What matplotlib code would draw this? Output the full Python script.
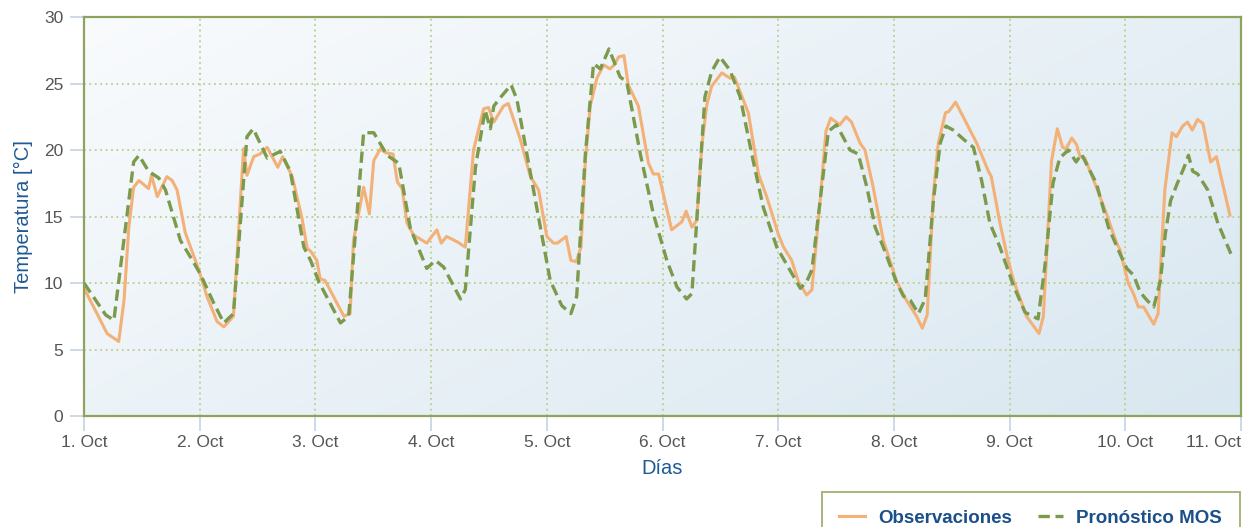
import numpy as np
import matplotlib
matplotlib.use("Agg")
import matplotlib.pyplot as plt
from matplotlib.colors import LinearSegmentedColormap

plt.rcParams['font.family'] = ['Liberation Sans', 'DejaVu Sans']

# ---------------- data: hours since 1 Oct 00:00, temperature in degC ----------------
obs_hours = [0.0, 2.7, 4.8, 7.2, 8.3, 9.3, 10.3, 11.4, 13.4, 14.0, 15.2, 17.2, 18.3, 19.3,
             21.0, 23.8, 25.5, 27.6, 29.0, 31.0, 33.1, 33.8, 35.2, 36.5, 38.0, 40.2, 41.2,
             43.2, 45.2, 46.3, 47.0, 48.3, 49.0, 50.0, 53.9, 55.2, 55.9, 58.0, 59.2, 60.1,
             61.5, 62.5, 64.1, 65.0, 66.0, 67.0, 68.4, 71.1, 73.2, 74.1, 75.2, 77.4, 79.1,
             80.8, 82.9, 83.9, 85.0, 87.0, 88.0, 90.5, 92.6, 94.3, 96.0, 97.4, 98.2, 100.0,
             101.0, 102.1, 103.1, 104.0, 105.0, 106.4, 107.8, 109.1, 110.0, 110.9, 112.0,
             112.9, 115.0, 117.1, 118.1, 119.2, 121.9, 124.0, 124.9, 126.1, 127.1, 128.2,
             129.2, 130.2, 132.3, 134.0, 134.9, 137.8, 139.9, 141.6, 142.3, 144.0, 145.1,
             146.8, 148.2, 149.9, 151.0, 152.7, 153.9, 154.9, 156.8, 158.1, 159.2, 161.0,
             162.0, 163.7, 165.8, 168.6, 170.6, 172.7, 173.9, 174.9, 176.2, 177.2, 178.7,
             179.4, 180.8, 185.2, 187.6, 188.2, 190.0, 191.7, 192.8, 195.5, 196.9, 198.1,
             199.0, 200.7, 201.9, 203.0, 203.7, 204.9, 205.9, 206.6, 207.6, 210.0, 212.1,
             214.2, 214.9, 216.6, 217.7, 218.7, 219.8, 221.9, 222.8, 224.2, 225.7, 226.6,
             227.9, 228.9, 229.9, 231.0, 232.1, 233.7, 234.9, 237.7]
obs_temp = [9.6, 7.7, 6.2, 5.6, 8.7, 14.2, 17.2, 17.7, 17.1, 18.1, 16.5, 18.0, 17.7, 17.0,
            13.8, 11.0, 9.0, 7.1, 6.7, 7.5, 20.1, 18.1, 19.5, 19.7, 20.2, 18.7, 19.5,
            18.0, 14.9, 12.6, 12.4, 11.7, 10.3, 10.2, 7.5, 7.7, 13.2, 17.2, 15.2, 19.2,
            20.1, 19.8, 19.7, 17.6, 17.1, 14.5, 13.6, 13.0, 14.0, 13.0, 13.5, 13.1, 12.7,
            20.0, 23.1, 23.2, 22.1, 23.3, 23.5, 20.8, 18.0, 17.0, 13.5, 13.0, 13.0, 13.5,
            11.7, 11.6, 12.7, 19.2, 23.3, 25.4, 26.4, 26.1, 26.4, 27.0, 27.1,
            24.9, 23.3, 19.0, 18.2, 18.2, 14.0, 14.6, 15.4, 14.2, 14.7, 20.5,
            23.4, 24.8, 25.8, 25.4, 25.5, 22.8, 18.2, 16.5, 15.7, 13.7, 12.7,
            11.7, 10.1, 9.1, 9.5, 16.2, 21.4, 22.4, 21.9, 22.5, 22.1, 20.5,
            20.0, 17.2, 13.2, 10.1, 8.7, 7.5, 6.6, 7.6, 16.7, 20.5, 22.8,
            22.9, 23.6, 20.5, 18.4, 18.0, 14.5, 11.7, 10.2, 7.5, 6.8, 6.2,
            7.5, 19.2, 21.6, 20.2, 20.1, 20.9, 20.4, 19.5, 19.4, 17.2, 15.2,
            13.0, 12.5, 10.0, 9.2, 8.2, 8.2, 6.9, 7.7, 17.0, 21.3, 21.0,
            21.8, 22.1, 21.5, 22.3, 22.0, 19.1, 19.5, 15.1]

mos_hours = [0.0, 4.5, 6.2, 10.3, 11.4, 13.4, 15.5, 16.9, 20.0, 22.0, 24.1, 26.9, 29.0, 31.0,
             33.8, 35.1, 38.0, 40.7, 42.8, 45.6, 47.0, 48.7, 53.2, 54.9, 58.0, 60.1, 62.9,
             65.3, 67.7, 71.1, 72.9, 74.6, 78.1, 79.1, 81.2, 83.2, 84.3, 85.0, 86.5, 88.6,
             89.8, 94.0, 96.7, 99.1, 101.0, 102.2, 104.0, 105.7, 107.1, 108.9, 111.2, 112.6,
             115.4, 118.1, 120.9, 123.0, 125.0, 126.1, 127.8, 128.8, 130.2, 131.9, 134.0,
             136.1, 138.8, 140.9, 143.7, 148.6, 149.9, 151.0, 152.7, 154.4, 156.1, 158.9,
             160.6, 162.4, 164.1, 165.8, 168.6, 170.0, 171.4, 173.1, 174.5, 176.2, 177.6,
             178.8, 180.3, 183.1, 184.5, 186.2, 187.9, 190.0, 192.8, 195.2, 197.9, 199.3,
             201.0, 202.4, 204.2, 205.8, 206.9, 210.0, 212.5, 214.9, 216.3, 217.7, 219.1,
             220.5, 221.9, 223.3, 224.3, 225.4, 226.8, 228.2, 229.1, 230.0, 231.0, 233.1,
             235.2, 237.9]
mos_temp = [10.0, 7.6, 7.2, 19.1, 19.6, 18.4, 17.9, 17.0, 13.2, 12.0, 10.7, 8.5, 7.0, 7.7,
            21.0, 21.6, 19.4, 19.9, 18.4, 12.7, 11.7, 10.1, 7.0, 7.5, 21.3, 21.3, 19.6,
            19.0, 14.1, 11.1, 11.7, 11.2, 8.8, 9.5, 18.7, 23.0, 21.6, 23.3, 24.0, 24.9,
            23.8, 15.5, 10.2, 8.3, 7.7, 9.0, 19.7, 26.5, 26.1, 27.6, 25.5, 25.1,
            19.7, 15.2, 11.7, 9.7, 8.8, 9.2, 18.5, 24.0, 25.9, 27.0, 26.0,
            24.0, 19.2, 15.7, 12.7, 9.6, 10.1, 11.0, 16.2, 21.4, 21.9, 20.0,
            19.7, 17.2, 14.2, 12.7, 10.0, 9.0, 8.7, 7.7, 8.8, 16.2, 20.5,
            21.8, 21.5, 20.6, 20.2, 17.7, 14.5, 12.7, 9.8, 7.8, 7.3, 11.2,
            17.5, 19.4, 20.0, 19.1, 19.7, 17.5, 14.2, 12.2, 11.1, 10.6, 9.3,
            8.7, 8.2, 10.2, 13.7, 16.2, 17.5, 18.7, 19.6, 18.4, 18.2, 17.0,
            14.5, 12.2]

day_labels = ["%d. Oct" % d for d in range(1, 12)]
y_ticks = [0, 5, 10, 15, 20, 25, 30]

# ---------------- figure ----------------
fig = plt.figure(figsize=(12.5, 5.27), dpi=100)
ax = fig.add_axes([0.0672, 0.2106, 0.9256, 0.7571])

# soft diagonal gradient behind the plot
grad_cmap = LinearSegmentedColormap.from_list("bg", ["#f9fbfd", "#d9e7f0"])
gx, gy = np.meshgrid(np.linspace(0, 1, 256), np.linspace(0, 1, 256))
ax.imshow(0.6 * gx + 0.4 * gy, cmap=grad_cmap, extent=[0, 10, 0, 30],
          aspect='auto', origin='upper', zorder=0, interpolation='bilinear')

obs_x = np.array(obs_hours) / 24.0
mos_x = np.array(mos_hours) / 24.0

ax.plot(obs_x, obs_temp, color='#f3b077', lw=2.2, solid_joinstyle='round', zorder=3,
        label='Observaciones')
ax.plot(mos_x, mos_temp, color='#7b9a4b', lw=2.4, dashes=(3.4, 1.7), zorder=4,
        label='Pronóstico MOS')

ax.set_xlim(0, 10)
ax.set_ylim(0, 30)

ax.set_xticks(range(11))
ax.set_xticklabels(day_labels)
ax.set_yticks(y_ticks)

ax.grid(True, color='#b8cf8f', linestyle=(0, (1, 2)), linewidth=1.3, zorder=1)
ax.set_axisbelow(True)

for side in ['left', 'right', 'top', 'bottom']:
    ax.spines[side].set_color('#8ea35c')
    ax.spines[side].set_linewidth(1.6)
    ax.spines[side].set_zorder(5)

ax.tick_params(axis='y', length=10, width=1.2, color='#c5d3e6', pad=5,
               labelsize=12.5, labelcolor='#555555')
ax.tick_params(axis='x', length=11, width=1.2, color='#c5d3e6', pad=3,
               labelsize=12.5, labelcolor='#555555')
ax.get_xticklabels()[-1].set_horizontalalignment('right')

ax.set_ylabel('Temperatura [°C]', color='#1f5a96', fontsize=14.5, labelpad=8)
ax.set_xlabel('Días', color='#1f5a96', fontsize=14.5, labelpad=6)

leg = fig.legend(loc='upper right', bbox_to_anchor=(1240 / 1250, 1 - 492 / 527), ncol=2,
                 frameon=True, fancybox=False, handlelength=1.35, borderaxespad=0,
                 columnspacing=1.4, borderpad=0.95, handletextpad=0.7,
                 prop={'weight': 'bold', 'size': 13.5})
leg.get_frame().set_edgecolor('#8ea35c')
leg.get_frame().set_linewidth(1.4)
for txt in leg.get_texts():
    txt.set_color('#1a4f8a')

fig.savefig('out.png', dpi=100)
